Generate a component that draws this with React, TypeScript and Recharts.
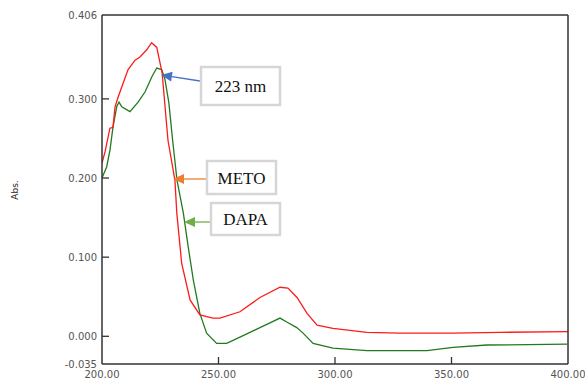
import React from 'react';
import { LineChart, Line, XAxis, YAxis, Label } from 'recharts';

// METO spectrum (red)
const metoNm = [200, 201.3, 203.4, 204.7, 205.6, 206.9, 209.1, 211.2, 214.2, 216.3, 219.2, 221.3, 223.5, 225.8, 228.3, 231.3, 232.1, 234.2, 237.8, 242, 247.6, 250.6, 259.2, 267.8, 276.4, 279.8, 283.7, 288, 292.3, 299.1, 313.7, 327.9, 350.6, 370.8, 400];
const metoAbs = [0.219, 0.233, 0.263, 0.264, 0.29, 0.302, 0.32, 0.337, 0.349, 0.353, 0.362, 0.371, 0.365, 0.333, 0.248, 0.197, 0.156, 0.092, 0.046, 0.027, 0.023, 0.023, 0.031, 0.049, 0.062, 0.061, 0.049, 0.029, 0.014, 0.01, 0.005, 0.004, 0.004, 0.005, 0.006];

// DAPA spectrum (green)
const dapaNm = [200, 202, 203.4, 204.7, 206.3, 207.3, 208.5, 212, 215.5, 218.5, 221.4, 223.5, 225.6, 227, 228.7, 230.3, 232.2, 234.9, 237, 239.2, 242, 244.9, 249.2, 253.5, 259.2, 267.8, 276.4, 279.3, 283.6, 286.3, 290.6, 299.1, 313.7, 327.9, 339.5, 350.6, 365.2, 399.6];
const dapaAbs = [0.2, 0.214, 0.235, 0.264, 0.29, 0.296, 0.29, 0.284, 0.296, 0.309, 0.328, 0.339, 0.337, 0.325, 0.295, 0.248, 0.197, 0.156, 0.113, 0.071, 0.029, 0.004, -0.009, -0.009, -0.001, 0.011, 0.023, 0.018, 0.011, 0.004, -0.009, -0.015, -0.018, -0.018, -0.018, -0.014, -0.011, -0.01];

const xTicks = [200, 250, 300, 350, 400];
const yTicks = [-0.035, 0, 0.1, 0.2, 0.3, 0.406];
const frameTicks = [0, 0.1, 0.2, 0.3, 0.4];

const meto = metoNm.map((nm, i) => ({ nm, abs: metoAbs[i] }));
const dapa = dapaNm.map((nm, i) => ({ nm, abs: dapaAbs[i] }));

const frame = '#333';
const M = 5; // tickMargin
const T = 7; // inward tick length

// custom tick: inward tick line + label; side tells where the plot is
const makeTick = (side: 'left' | 'right' | 'top' | 'bottom', fmt?: (v: number) => string) => (p: any) => {
  const { x, y, payload } = p;
  const v = payload.value;
  let line;
  if (side === 'left') line = <line x1={x + M} y1={y} x2={x + M + T} y2={y} stroke={frame} strokeWidth={1.3} />;
  else if (side === 'right') line = <line x1={x - M} y1={y} x2={x - M - T} y2={y} stroke={frame} strokeWidth={1.3} />;
  else if (side === 'bottom') line = <line x1={x} y1={y - M} x2={x} y2={y - M - T} stroke={frame} strokeWidth={1.3} />;
  else line = <line x1={x} y1={y + M} x2={x} y2={y + M + T} stroke={frame} strokeWidth={1.3} />;
  const showLine = !(side === 'left' && (v === 0.406 || v === -0.035)) && !(side !== 'left' && side !== 'right' && (v === 200 || v === 400));
  return (
    <g>
      {showLine && line}
      {fmt && (
        <text x={x} y={side === 'bottom' ? y + 9 : y + 4} textAnchor={side === 'left' ? 'end' : 'middle'}
          fontFamily="DejaVu Sans" fontSize={10} fill="#555">{fmt(v)}</text>
      )}
    </g>
  );
};

const Callout = ({ x, y, w, h, text, color, x1, y1, x2, y2 }: any) => {
  const ang = Math.atan2(y2 - y1, x2 - x1);
  const L = 11, W = 5;
  const bx = x2 - L * Math.cos(ang), by = y2 - L * Math.sin(ang);
  const px = -Math.sin(ang) * W, py = Math.cos(ang) * W;
  return (
    <g>
      <line x1={x1} y1={y1} x2={bx} y2={by} stroke={color} strokeWidth={1.3} />
      <polygon points={`${x2},${y2} ${bx + px},${by + py} ${bx - px},${by - py}`} fill={color} />
      <rect x={x} y={y} width={w} height={h} fill="#fff" stroke="#d6d6d6" strokeWidth={2.5} />
      <text x={x + w / 2} y={y + h / 2 + 6} textAnchor="middle" fontFamily="Liberation Serif" fontSize={17} fill="#111">{text}</text>
    </g>
  );
};

const AbsLabel = () => (
  <text transform="translate(18,190) rotate(-90)" textAnchor="middle" fontFamily="DejaVu Sans" fontSize={9} fill="#222">Abs.</text>
);

export default function App() {
  return (
    <div style={{ position: 'absolute', left: 0, top: 0, width: 585, height: 388, background: '#fff' }}>
      <LineChart width={585} height={388} margin={{ top: 0, right: 0, bottom: 0, left: 0 }}>
        <XAxis xAxisId="b" dataKey="nm" type="number" domain={[200, 400]} ticks={xTicks} allowDataOverflow
          height={24} tick={makeTick('bottom', (v) => v.toFixed(2))} tickLine={false}
          stroke={frame} strokeWidth={1.5} tickSize={0} tickMargin={M} interval={0}>
          <Label value="nm" position="insideBottom" offset={-8} style={{ fontFamily: 'DejaVu Sans', fontSize: 10, fill: '#555' }} />
        </XAxis>
        <XAxis xAxisId="t" orientation="top" dataKey="nm" type="number" domain={[200, 400]} ticks={xTicks}
          height={15} tick={makeTick('top')} tickLine={false} stroke={frame} strokeWidth={1.5} tickSize={0} tickMargin={M} interval={0} />
        <YAxis yAxisId="l" type="number" domain={[-0.035, 0.406]} ticks={yTicks} allowDataOverflow
          width={102} tick={makeTick('left', (v) => v.toFixed(3))} tickLine={false}
          stroke={frame} strokeWidth={1.5} tickSize={0} tickMargin={M} interval={0}>
          <Label content={AbsLabel} />
        </YAxis>
        <YAxis yAxisId="r" orientation="right" type="number" domain={[-0.035, 0.406]} ticks={frameTicks}
          width={17} tick={makeTick('right')} tickLine={false} stroke={frame} strokeWidth={1.5} tickSize={0} tickMargin={M} interval={0} />
        <Line xAxisId="b" yAxisId="l" data={dapa} dataKey="abs" stroke="#217a21" strokeWidth={1.3} dot={false} isAnimationActive={false} type="linear" />
        <Line xAxisId="b" yAxisId="l" data={meto} dataKey="abs" stroke="#ff1a1a" strokeWidth={1.3} dot={false} isAnimationActive={false} type="linear" />
      </LineChart>
      <svg width={585} height={388} style={{ position: 'absolute', left: 0, top: 0, pointerEvents: 'none' }}>
        <Callout x={201} y={67} w={79} h={38} text="223 nm" color="#4472c4" x1={200} y1={81} x2={161} y2={75} />
        <Callout x={207} y={161} w={69} h={33} text="METO" color="#ed7d31" x1={207} y1={179} x2={173} y2={179} />
        <Callout x={211} y={203} w={69} h={32} text="DAPA" color="#70ad47" x1={211} y1={222} x2={184} y2={222} />
      </svg>
    </div>
  );
}
